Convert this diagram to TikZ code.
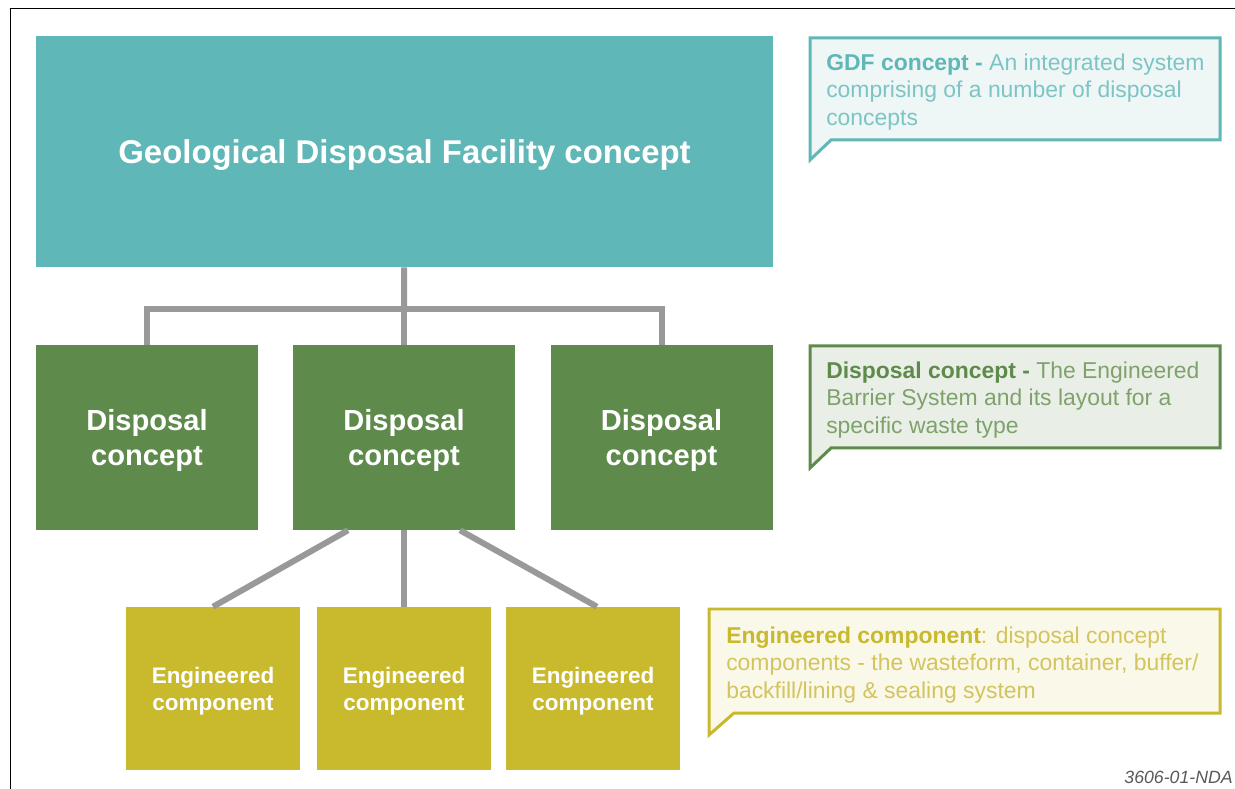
\documentclass[tikz,border=0pt]{standalone}
\usepackage{fontspec}
\setmainfont{Liberation Sans}
\usetikzlibrary{backgrounds}
\definecolor{gdfteal}{RGB}{95,183,183}
\definecolor{dcgreen}{RGB}{94,138,75}
\definecolor{ecyellow}{RGB}{201,185,45}
\definecolor{linkgray}{RGB}{153,153,153}
\definecolor{tealpale}{RGB}{238,246,246}
\definecolor{greenpale}{RGB}{233,239,230}
\definecolor{yellowpale}{RGB}{250,248,232}
\definecolor{tealtext}{RGB}{125,196,196}
\definecolor{greentext}{RGB}{127,162,108}
\definecolor{yellowtext}{RGB}{210,196,95}
\tikzset{
  treenode/.style = {align=center, inner sep=0pt, text centered, white,
    text depth=0pt},
  box_t/.style = {treenode, rectangle, fill=gdfteal,
    minimum width=18.425cm, minimum height=5.775cm,
    font=\fontsize{23.4}{28}\selectfont\bfseries},% facility
  box_g/.style = {treenode, rectangle, fill=dcgreen,
    minimum width=5.55cm, minimum height=4.625cm,
    font=\fontsize{20.7}{25.5}\selectfont\bfseries},% disposal concept
  box_y/.style = {treenode, rectangle, fill=ecyellow,
    minimum width=4.35cm, minimum height=4.075cm,
    font=\fontsize{16}{19}\selectfont\bfseries},% engineered component
  link/.style = {draw=linkgray, line width=0.15cm},
  note/.style = {align=left, inner sep=0pt, anchor=west,
    font=\fontsize{16.3}{19.5}\selectfont},
  note_t/.style = {draw=gdfteal, fill=tealpale, line width=0.075cm},
  note_g/.style = {draw=dcgreen, fill=greenpale, line width=0.075cm},
  note_y/.style = {draw=ecyellow, fill=yellowpale, line width=0.075cm},
}
\begin{document}
\begin{tikzpicture}
  \useasboundingbox (0,0) rectangle (30.875,-19.725);
  \draw[line width=1pt] (0.2625,-19.725) -- (0.2625,-0.2125) -- (30.875,-0.2125);

  \node[box_t] (gdf) at (10.1125,-3.7875) {Geological Disposal Facility concept};

  \node[box_g] (dc1) at (3.675,-10.9375) {Disposal\\concept};
  \node[box_g] (dc2) at (10.1,-10.9375) {Disposal\\concept};
  \node[box_g] (dc3) at (16.5375,-10.9375) {Disposal\\concept};

  \node[box_y] (ec1) at (5.325,-17.2125) {Engineered\\component};
  \node[box_y] (ec2) at (10.1,-17.2125) {Engineered\\component};
  \node[box_y] (ec3) at (14.825,-17.2125) {Engineered\\component};

  % facility to concepts
  \coordinate (bus) at (10.1,-7.725);
  \draw[link] (gdf) -- (bus);
  \draw[link] (bus) -| (dc1);
  \draw[link] (bus) -| (dc3);
  \draw[link] (bus) -- (dc2);
  % concept to components
  \draw[link] ([xshift=-1.4cm]dc2.south) -- (ec1.north);
  \draw[link] (dc2) -- (ec2);
  \draw[link] ([xshift=1.4cm]dc2.south) -- ([xshift=0.1cm]ec3.north);

  % notes
  \node[note, tealtext] (n_gdf) at (20.65,-2.3)
    {\textcolor{gdfteal}{\bfseries GDF concept -} An integrated system\\
     comprising of a number of disposal\\concepts};
  \node[note, greentext] (n_dc) at (20.65,-10.0)
    {\textcolor{dcgreen}{\bfseries Disposal concept -} The Engineered\\
     Barrier System and its layout for a\\specific waste type};
  \node[note, yellowtext] (n_ec) at (18.15,-16.625)
    {\textcolor{ecyellow}{\bfseries Engineered component}: disposal concept\\
     components - the wasteform, container, buffer/\\
     backfill/lining \& sealing system};
  \begin{scope}[on background layer]
    \filldraw[note_t] (20.25,-0.95) -- (30.5,-0.95) -- (30.5,-3.5)
      -- (20.775,-3.5) -- (20.25,-4.0) -- cycle;
    \filldraw[note_g] (20.25,-8.65) -- (30.5,-8.65) -- (30.5,-11.2)
      -- (20.775,-11.2) -- (20.25,-11.7) -- cycle;
    \filldraw[note_y] (17.725,-15.225) -- (30.5,-15.225) -- (30.5,-17.825)
      -- (18.35,-17.825) -- (17.725,-18.375) -- cycle;
  \end{scope}

  \node[anchor=base east, inner sep=0pt, text=black!65,
    font=\fontsize{12.6}{15}\selectfont\itshape] (ref) at (30.825,-19.575) {3606-01-NDA};
\end{tikzpicture}
\end{document}
